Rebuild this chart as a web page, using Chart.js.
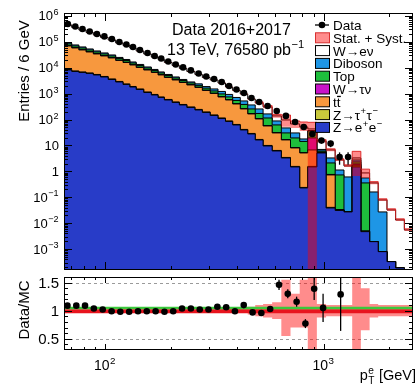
<!DOCTYPE html>
<html>
<head>
<meta charset="utf-8">
<title>Electron pT spectrum</title>
<script src="https://cdn.jsdelivr.net/npm/chart.js@4.4.1/dist/chart.umd.min.js"></script>
<style>
  html, body { margin: 0; padding: 0; background: #fff; }
  #wrap { position: relative; width: 417px; height: 387px; overflow: hidden; }
  #wrap canvas { position: absolute; left: 0; }
  #mainChart { top: 0; }
  #ratioChart { top: 270px; }
</style>
</head>
<body>
<div id="wrap">
  <canvas id="mainChart" width="417" height="280"></canvas>
  <canvas id="ratioChart" width="417" height="117"></canvas>
</div>
<script>
// bin edges of the histogram, GeV
const binEdges = [65, 70.5, 76, 82, 88.5, 95.5, 103.5, 112, 121, 130, 139, 150.5, 163, 175, 187,
  203, 219, 237, 258, 279, 303, 329, 356, 384, 416, 450, 487, 529, 582, 641, 706, 778, 847,
  932, 1027, 1130, 1240, 1352, 1481, 1624, 1778, 1950, 2136, 2342, 2565];

// background / signal contributions per bin (entries / 6 GeV)
const zee = [8230, 7200, 6590, 6030, 5270, 4410, 3530, 2830, 2270, 1810, 1450, 1110, 891, 713, 571, 457, 366, 293,
  235, 188, 144, 110, 84.5, 61.9, 39.7, 27.8, 16.3, 9.56, 6.13, 3.29, 1.48,
  0.229, 1.48, 5.13, 0.0386, 0.0309, 0.0271, 1.48, 0.0047, 0.00193, 0.000794, 0.000326, 0.000186, 0];
const ztautau = [370, 324, 297, 271, 237, 198, 159, 127, 102, 81, 65, 50, 40, 32, 26, 21, 16, 13,
  11, 8.5, 6.5, 5, 3.8, 2.8, 1.8, 1.25, 0.73, 0.43, 0.28, 0.15, 0.07,
  0.01, 0.07, 0.1, 0.002, 0.0014, 0.0007, 0.14, 0.0002, 0, 0, 0, 0, 0];
const ttbar = [60900, 50600, 41800, 34400, 28600, 24000, 20200, 16200, 13600, 10900, 8750, 7040, 5660, 4530, 3620, 2900, 2320, 1860,
  1490, 1134, 868, 631, 483, 335, 215.5, 136, 88.5, 46.6, 24, 12.9, 6.46,
  4.89, 5.15, 0.14, 0.686, 0, 0, 0.15, 0, 0, 0, 0, 0, 0];
const wtaunu = [2090, 1750, 1460, 1220, 1020, 858, 718, 575, 481, 384, 308, 246, 198, 158, 127, 101, 81, 65,
  52, 40, 31, 22, 17, 12, 7.7, 5, 3.2, 1.7, 0.9, 0.5, 0.24,
  0.14, 12.8, 0.24, 0.033, 0.0009, 0, 0.16, 0, 0, 0, 0, 0, 0];
const singleTop = [11430, 9560, 8010, 6700, 5610, 4700, 3930, 3150, 2630, 2100, 1690, 1350, 1080, 867, 694, 556, 445, 357,
  300, 265, 223, 206, 158, 134, 118, 87, 63, 56.7, 30.6, 13.6, 11.25,
  9.03, 16.8, 0.52, 1.35, 0.693, 0, 0.38, 0.352, 0, 0, 0, 0, 0];
const diboson = [7710, 6450, 5410, 4520, 3780, 3170, 2650, 2130, 1780, 1420, 1140, 910, 731, 585, 468, 375, 300, 241,
  297, 237, 247, 242, 186, 167, 140, 109, 85, 50, 26.4, 17, 10.9,
  3.5, 1.6, 0.88, 1.18, 0.40, 0.58, 0.45, 0.199, 0.158, 0.0263, 0, 0, 0];
const wenu = [358300, 284100, 224400, 177800, 140500, 110700, 86800, 65700, 51700, 41400, 31100, 23400, 17500, 14000, 10500, 7890, 5870, 4370,
  3140, 2323, 1861, 1374, 878, 617, 451, 258, 181, 142, 49.7, 49.1, 37.3,
  34, 5.5, 7.9, 3.41, 1.63, 1.01, 0.53, 0.312, 0.197, 0.0516, 0.032, 0.0131, 0.00546];

// relative stat + syst uncertainty per bin (up / down)
const bandUp = [0.02, 0.02, 0.02, 0.02, 0.02, 0.02, 0.02, 0.02, 0.02, 0.02, 0.02, 0.02, 0.02, 0.02, 0.02, 0.02, 0.02, 0.02, 0.02, 0.02, 0.02,
  0.04, 0.04, 0.04, 0.04, 0.07, 0.1, 0.12, 0.15, 0.55, 0.3, 0.55, 0.8, 0.12, 0.1, 0.1, 0.1, 0.8, 0.4, 0.12, 0.1, 0.1, 0.1, 0.1];
const bandDown = [0.02, 0.02, 0.02, 0.02, 0.02, 0.02, 0.02, 0.02, 0.02, 0.02, 0.02, 0.02, 0.02, 0.02, 0.02, 0.02, 0.02, 0.02, 0.02, 0.02, 0.02,
  0.04, 0.04, 0.04, 0.04, 0.07, 0.1, 0.12, 0.15, 0.45, 0.3, 0.3, 1.0, 0.12, 0.1, 0.1, 0.1, 0.8, 0.35, 0.12, 0.1, 0.1, 0.1, 0.1];

// data, one value per bin (first 37 bins)
const dataValues = [4.9e5, 3.9e5, 3.15e5, 2.52e5, 2.02e5, 1.62e5, 1.29e5, 9.9e4, 7.9e4, 6.35e4, 4.87e4, 3.73e4, 2.86e4,
  2.29e4, 1.75e4, 1.34e4, 1.03e4, 7900, 6000, 4600, 3700, 2830, 1980, 1450, 1060, 683, 478, 335, 215, 138,
  80.8, 51.8, 27.8, 15.6, 11.9, 3.6, 3.6];
const dataRelErr = [0.01, 0.01, 0.01, 0.01, 0.01, 0.01, 0.01, 0.01, 0.01, 0.01, 0.01, 0.01, 0.01, 0.01, 0.01, 0.01, 0.01, 0.01,
  0.01, 0.01, 0.01, 0.01, 0.01, 0.01, 0.01, 0.03, 0.04, 0.05, 0.06, 0.08, 0.1, 0.13, 0.18, 0.25, 0.28, 0.5, 0.5];

// ratio panel
const ratioX = [67.4, 74.0, 81.1, 89.0, 97.7, 107.3, 117.6, 129.1, 141.7, 155.4, 170.6, 187.2, 205.3, 225.3, 247.3,
  271.5, 297.6, 326.8, 358.6, 393.2, 431.5, 473.6, 519.4, 570, 625.7, 686, 753, 826, 906, 995, 1197];
const ratioValues = [1.09, 1.09, 1.09, 1.04, 1.02, 0.99, 0.98, 0.98, 0.99, 0.99, 0.99, 0.98, 0.99, 1.04, 1.04,
  1.02, 1.02, 1.07, 1.06, 0.99, 1.10, 0.97, 0.96, 1.03, 1.46, 1.30, 1.16, 0.77, 1.39, 1.05, 1.29];
const ratioErr = [0.005, 0.005, 0.005, 0.005, 0.005, 0.005, 0.005, 0.005, 0.005, 0.005, 0.005, 0.005, 0.005,
  0.01, 0.01, 0.012, 0.015, 0.02, 0.02, 0.025, 0.03, 0.035, 0.04, 0.05, 0.09, 0.08, 0.09, 0.08, 0.2, 0.25, 0.65];
const ratioRedLevel = 0.99;
const ratioGreenLevel = 1.05;

// axis ticks
const xMajorTicks = [100, 1000];
const xMinorTicks = [70, 80, 90, 200, 300, 400, 500, 600, 700, 800, 900, 2000];
const mainYTicks = [1e6, 1e5, 1e4, 1e3, 100, 10, 1, 0.1, 0.01, 0.001];
const ratioYTicks = [1.5, 1, 0.5];
const ratioYMinor = [0.4, 0.6, 0.7, 0.8, 0.9, 1.1, 1.2, 1.3, 1.4];

const X_MIN = 65, X_MAX = 2565;
const Y_MIN = 1.55e-4, Y_MAX = 1.3e6;

const FONT = "'Liberation Sans', Arial, Helvetica, sans-serif";
const colZee = '#283cc8';
const colZtt = '#c8c83c';
const colTtbar = '#f7983e';
const colWtn = '#c814c8';
const colTop = '#1ebe3c';
const colDib = '#1e96e6';
const colWen = '#ffffff';
const colBand = 'rgba(255, 0, 0, 0.45)';

Chart.defaults.font.family = FONT;
Chart.defaults.color = '#000';

// draws text made of plain strings and {sup, sub} pieces
function drawRich(ctx, segs, x, y, size, align) {
  let total = 0;
  const parts = segs.map(s => {
    if (typeof s === 'string') {
      ctx.font = `${size}px ${FONT}`;
      const w = ctx.measureText(s).width;
      total += w;
      return { t: s, w: w };
    }
    ctx.font = `${size * 0.7}px ${FONT}`;
    const a = s.sup ? ctx.measureText(s.sup).width : 0;
    const b = s.sub ? ctx.measureText(s.sub).width : 0;
    const w = Math.max(a, b) + 1;
    total += w;
    return { sup: s.sup, sub: s.sub, w: w };
  });
  let cx = align === 'right' ? x - total : align === 'center' ? x - total / 2 : x;
  ctx.textAlign = 'left';
  ctx.textBaseline = 'alphabetic';
  parts.forEach(p => {
    if (p.t !== undefined) {
      ctx.font = `${size}px ${FONT}`;
      ctx.fillText(p.t, cx, y);
    } else {
      ctx.font = `${size * 0.7}px ${FONT}`;
      if (p.sup) ctx.fillText(p.sup, cx + 0.5, y - size * 0.42);
      if (p.sub) ctx.fillText(p.sub, cx + 0.5, y + size * 0.28);
    }
    cx += p.w;
  });
  return total;
}

function powerLabel(v) {
  const e = Math.round(Math.log10(v));
  if (e === 0) return ['1'];
  if (e === 1) return ['10'];
  return ['10', { sup: e < 0 ? '\u2212' + (-e) : String(e) }];
}

function histPoints(values) {
  const pts = values.map((v, i) => ({ x: binEdges[i], y: v }));
  pts.push({ x: binEdges[values.length], y: values[values.length - 1] });
  return pts;
}

function binCenter(i) {
  return Math.sqrt(binEdges[i] * binEdges[i + 1]);
}

function drawFrame(chart, xTicks, yTicks) {
  const { ctx, chartArea: a, scales } = chart;
  ctx.save();
  ctx.strokeStyle = '#000';
  ctx.lineWidth = 1;
  ctx.beginPath();
  xTicks.forEach(t => {
    const px = Math.round(scales.x.getPixelForValue(t.v)) + 0.5;
    ctx.moveTo(px, a.bottom); ctx.lineTo(px, a.bottom - t.len);
    ctx.moveTo(px, a.top); ctx.lineTo(px, a.top + t.len);
  });
  yTicks.forEach(t => {
    const py = Math.round(scales.y.getPixelForValue(t.v)) + 0.5;
    ctx.moveTo(a.left, py); ctx.lineTo(a.left + t.len, py);
    ctx.moveTo(a.right, py); ctx.lineTo(a.right - t.len, py);
  });
  ctx.stroke();
  ctx.strokeRect(a.left + 0.5, a.top + 0.5, a.right - a.left - 1, a.bottom - a.top - 1);
  ctx.restore();
}

// vertical error bars for datasets that carry errLow / errHigh
const errorBars = {
  id: 'errorBars',
  afterDatasetsDraw(chart) {
    const { ctx, chartArea: a } = chart;
    const ys = chart.scales.y;
    chart.data.datasets.forEach((ds, di) => {
      if (!ds.errLow) return;
      const meta = chart.getDatasetMeta(di);
      ctx.save();
      ctx.beginPath();
      ctx.rect(a.left, a.top, a.right - a.left, a.bottom - a.top);
      ctx.clip();
      ctx.strokeStyle = '#000';
      ctx.lineWidth = 1.3;
      meta.data.forEach((pt, i) => {
        const y1 = ys.getPixelForValue(ds.errLow[i]);
        const y2 = ys.getPixelForValue(ds.errHigh[i]);
        ctx.beginPath();
        ctx.moveTo(pt.x, y1);
        ctx.lineTo(pt.x, y2);
        ctx.stroke();
      });
      ctx.restore();
    });
  }
};

// ---- main panel ----
const stackParts = [zee, ztautau, ttbar, wtaunu, singleTop, diboson, wenu];
const stackColors = [colZee, colZtt, colTtbar, colWtn, colTop, colDib, colWen];
const cumulative = [];
let running = zee.map(() => 0);
stackParts.forEach(arr => {
  running = running.map((r, i) => r + arr[i]);
  cumulative.push(running.map(v => Math.max(v, 1e-7)));
});
const totalMC = cumulative[cumulative.length - 1];
const bandHigh = totalMC.map((v, i) => v * (1 + bandUp[i]));
const bandLow = totalMC.map((v, i) => Math.max(v * (1 - bandDown[i]), 1e-7));

const stackDatasets = cumulative.map((vals, k) => ({
  data: histPoints(vals),
  stepped: true,
  fill: 'start',
  backgroundColor: stackColors[k],
  borderColor: '#000',
  borderWidth: 1,
  pointRadius: 0
}));

const mainData = dataValues.map((v, i) => ({ x: binCenter(i), y: v }));

const legendEntries = [
  { kind: 'data', segs: ['Data'] },
  { kind: 'box', fill: 'rgb(255,140,140)', stroke: '#d83030', segs: ['Stat. + Syst.'] },
  { kind: 'box', fill: colWen, segs: ['W\u2192e\u03bd'] },
  { kind: 'box', fill: colDib, segs: ['Diboson'] },
  { kind: 'box', fill: colTop, segs: ['Top'] },
  { kind: 'box', fill: colWtn, segs: ['W\u2192\u03c4\u03bd'] },
  { kind: 'box', fill: colTtbar, segs: ['tt'], bar: true },
  { kind: 'box', fill: colZtt, segs: ['Z\u2192\u03c4', { sup: '+' }, '\u03c4', { sup: '\u2212' }] },
  { kind: 'box', fill: colZee, segs: ['Z\u2192e', { sup: '+' }, 'e', { sup: '\u2212' }] }
];

const mainDecor = {
  id: 'mainDecor',
  afterDraw(chart) {
    const ctx = chart.ctx;
    const ys = chart.scales.y;
    const xTicks = xMajorTicks.map(v => ({ v: v, len: 8 })).concat(xMinorTicks.map(v => ({ v: v, len: 4 })));
    const yTicks = mainYTicks.map(v => ({ v: v, len: 8 }));
    for (let n = -4; n <= 6; n++) {
      for (let k = 2; k <= 9; k++) {
        const v = k * Math.pow(10, n);
        if (v > Y_MIN && v < Y_MAX) yTicks.push({ v: v, len: 4 });
      }
    }
    drawFrame(chart, xTicks, yTicks);

    ctx.save();
    ctx.fillStyle = '#000';
    // y tick labels
    mainYTicks.forEach(v => {
      drawRich(ctx, powerLabel(v), 59, ys.getPixelForValue(v) + 4.5, 13, 'right');
    });
    // y title
    ctx.save();
    ctx.translate(29, 71);
    ctx.rotate(-Math.PI / 2);
    ctx.font = `15px ${FONT}`;
    ctx.textAlign = 'center';
    ctx.fillText('Entries / 6 GeV', 0, 0);
    ctx.restore();
    // annotation
    drawRich(ctx, ['Data 2016+2017'], 172, 35, 16, 'left');
    drawRich(ctx, ['13 TeV, 76580 pb', { sup: '\u22121' }], 167, 55, 16, 'left');

    // legend
    const y0 = 25, step = 12.8;
    legendEntries.forEach((e, i) => {
      const yc = y0 + i * step;
      if (e.kind === 'data') {
        ctx.strokeStyle = '#000';
        ctx.lineWidth = 1.3;
        ctx.beginPath();
        ctx.moveTo(315, yc); ctx.lineTo(329, yc);
        ctx.stroke();
        ctx.beginPath();
        ctx.arc(322, yc, 3.3, 0, Math.PI * 2);
        ctx.fill();
      } else {
        ctx.fillStyle = e.fill;
        ctx.fillRect(315.5, yc - 5, 14, 10);
        ctx.strokeStyle = e.stroke || '#000';
        ctx.lineWidth = 1;
        ctx.strokeRect(315.5, yc - 5, 14, 10);
        ctx.fillStyle = '#000';
      }
      drawRich(ctx, e.segs, 333, yc + 5, 13.5, 'left');
      if (e.bar) {
        // bar over the second t of "tt"
        ctx.font = `13.5px ${FONT}`;
        const tw = ctx.measureText('t').width;
        ctx.fillRect(333 + tw + 0.3, yc - 6, tw, 1.3);
      }
    });
    ctx.restore();
  }
};

new Chart(document.getElementById('mainChart'), {
  type: 'line',
  data: {
    datasets: [
      {
        data: mainData,
        showLine: false,
        pointRadius: 3.3,
        pointBackgroundColor: '#000',
        pointBorderColor: '#000',
        pointBorderWidth: 0,
        errLow: dataValues.map((v, i) => v * (1 - dataRelErr[i])),
        errHigh: dataValues.map((v, i) => v * (1 + dataRelErr[i]))
      },
      {
        data: histPoints(bandHigh),
        stepped: true,
        fill: '+1',
        backgroundColor: colBand,
        borderColor: 'rgba(220, 30, 30, 0.9)',
        borderWidth: 1,
        segment: {
          borderColor: c => bandUp[Math.min(c.p0DataIndex, bandUp.length - 1)] >= 0.09 ? 'rgba(220, 30, 30, 0.9)' : 'rgba(0,0,0,0)'
        },
        pointRadius: 0
      },
      {
        data: histPoints(bandLow),
        stepped: true,
        fill: false,
        borderWidth: 0,
        borderColor: 'rgba(0,0,0,0)',
        pointRadius: 0
      }
    ].concat(stackDatasets)
  },
  options: {
    responsive: false,
    devicePixelRatio: 1,
    animation: false,
    events: [],
    layout: { padding: { top: 13, right: 2, bottom: 10, left: 0 } },
    plugins: { legend: { display: false }, tooltip: { enabled: false } },
    scales: {
      x: { type: 'logarithmic', min: X_MIN, max: X_MAX, display: false },
      y: {
        type: 'logarithmic', min: Y_MIN, max: Y_MAX,
        ticks: { display: false },
        grid: { display: false },
        border: { display: false },
        afterFit: s => { s.width = 64; }
      }
    }
  },
  plugins: [errorBars, mainDecor]
});

// ---- ratio panel ----
const ratioData = ratioX.map((x, i) => ({ x: x, y: ratioValues[i] }));

const ratioDecor = {
  id: 'ratioDecor',
  beforeDatasetsDraw(chart) {
    const { ctx, chartArea: a } = chart;
    const ys = chart.scales.y;
    ctx.save();
    ctx.strokeStyle = '#9a9a9a';
    ctx.lineWidth = 1;
    ctx.setLineDash([3, 3]);
    ratioYTicks.forEach(v => {
      const py = Math.round(ys.getPixelForValue(v)) + 0.5;
      ctx.beginPath();
      ctx.moveTo(a.left, py);
      ctx.lineTo(a.right, py);
      ctx.stroke();
    });
    ctx.restore();
  },
  afterDraw(chart) {
    const ctx = chart.ctx;
    const xs = chart.scales.x, ys = chart.scales.y;
    const xTicks = xMajorTicks.map(v => ({ v: v, len: 6 })).concat(xMinorTicks.map(v => ({ v: v, len: 3 })));
    const yTicks = ratioYTicks.map(v => ({ v: v, len: 8 })).concat(ratioYMinor.map(v => ({ v: v, len: 4 })));
    drawFrame(chart, xTicks, yTicks);

    ctx.save();
    ctx.fillStyle = '#000';
    ratioYTicks.forEach(v => {
      drawRich(ctx, [String(v)], 59, ys.getPixelForValue(v) + 5, 15, 'right');
    });
    xMajorTicks.forEach(v => {
      drawRich(ctx, powerLabel(v), xs.getPixelForValue(v), 100, 14, 'center');
    });
    drawRich(ctx, ['p', { sup: 'e', sub: 'T' }, ' [GeV]'], 416, 110, 14.5, 'right');
    ctx.save();
    ctx.translate(29, 40);
    ctx.rotate(-Math.PI / 2);
    ctx.font = `15px ${FONT}`;
    ctx.textAlign = 'center';
    ctx.fillText('Data/MC', 0, 0);
    ctx.restore();
    ctx.restore();
  }
};

new Chart(document.getElementById('ratioChart'), {
  type: 'line',
  data: {
    datasets: [
      {
        data: ratioData,
        showLine: false,
        pointRadius: 3.3,
        pointBackgroundColor: '#000',
        pointBorderColor: '#000',
        pointBorderWidth: 0,
        errLow: ratioValues.map((v, i) => v - ratioErr[i]),
        errHigh: ratioValues.map((v, i) => v + ratioErr[i])
      },
      {
        data: [{ x: X_MIN, y: ratioGreenLevel }, { x: X_MAX, y: ratioGreenLevel }],
        borderColor: '#3cc83c',
        borderWidth: 2.5,
        pointRadius: 0,
        fill: false
      },
      {
        data: [{ x: X_MIN, y: ratioRedLevel }, { x: X_MAX, y: ratioRedLevel }],
        borderColor: '#e8141e',
        borderWidth: 4,
        pointRadius: 0,
        fill: false
      },
      {
        data: histPoints(bandUp.map(u => 1 + u)),
        stepped: true,
        fill: '+1',
        backgroundColor: colBand,
        borderWidth: 0,
        borderColor: 'rgba(0,0,0,0)',
        pointRadius: 0
      },
      {
        data: histPoints(bandDown.map(d => 1 - d)),
        stepped: true,
        fill: false,
        borderWidth: 0,
        borderColor: 'rgba(0,0,0,0)',
        pointRadius: 0
      }
    ]
  },
  options: {
    responsive: false,
    devicePixelRatio: 1,
    animation: false,
    events: [],
    layout: { padding: { top: 7, right: 2, bottom: 0, left: 0 } },
    plugins: { legend: { display: false }, tooltip: { enabled: false } },
    scales: {
      x: {
        type: 'logarithmic', min: X_MIN, max: X_MAX,
        ticks: { display: false },
        grid: { display: false },
        border: { display: false },
        afterFit: s => { s.height = 37; }
      },
      y: {
        type: 'linear', min: 0.3, max: 1.6,
        ticks: { display: false },
        grid: { display: false },
        border: { display: false },
        afterFit: s => { s.width = 64; }
      }
    }
  },
  plugins: [errorBars, ratioDecor]
});
</script>
</body>
</html>
